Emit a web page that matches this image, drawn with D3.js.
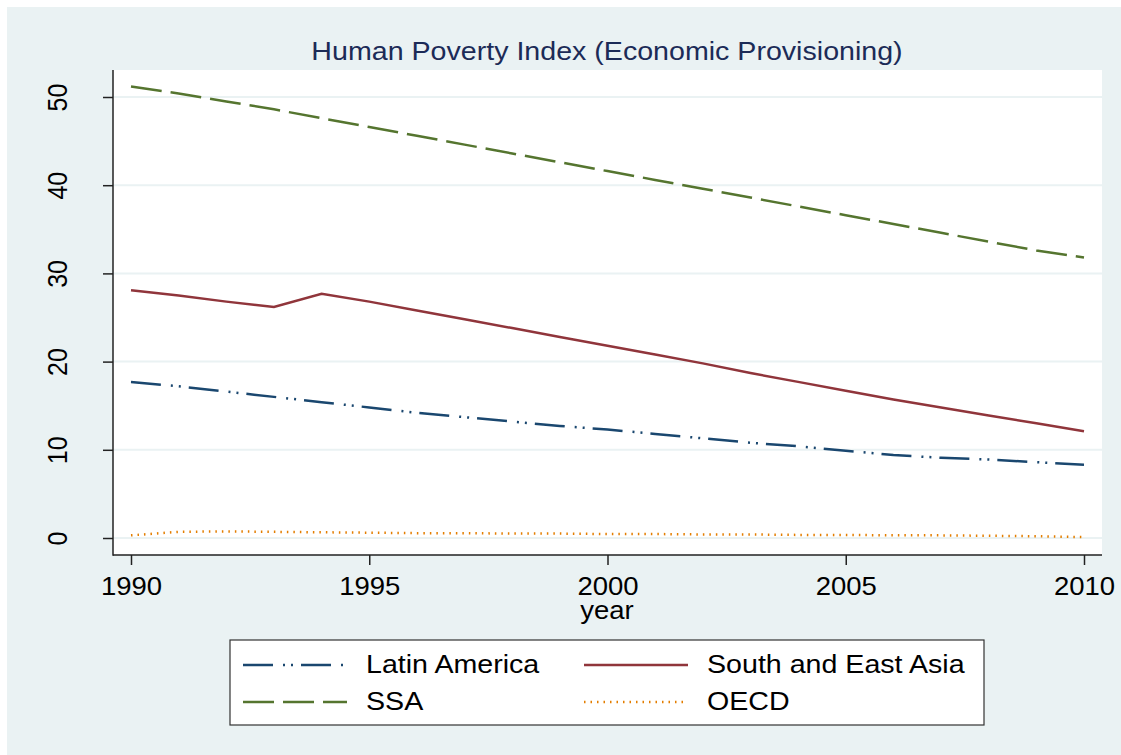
<!DOCTYPE html>
<html>
<head>
<meta charset="utf-8">
<script src="https://cdn.jsdelivr.net/npm/d3@7"></script>
<style>
  body { margin: 0; background: #fff; }
  text { font-family: 'Liberation Sans', Arial, sans-serif; }
</style>
</head>
<body>
<div id="chart"></div>
<script>
// data
const years = [1990, 1991, 1992, 1993, 1994, 1995, 1996, 1997, 1998, 1999, 2000,
  2001, 2002, 2003, 2004, 2005, 2006, 2007, 2008, 2009, 2010];
const latinAmerica = [17.7, 17.2, 16.6, 16.0, 15.4, 14.8, 14.2, 13.7, 13.2, 12.7, 12.3,
  11.8, 11.3, 10.8, 10.4, 9.9, 9.4, 9.1, 8.9, 8.6, 8.3];
const southEastAsia = [28.1, 27.5, 26.8, 26.2, 27.7, 26.8, 25.8, 24.8, 23.8, 22.8, 21.8,
  20.8, 19.8, 18.7, 17.7, 16.7, 15.7, 14.8, 13.9, 13.0, 12.1];
const ssa = [51.2, 50.4, 49.5, 48.6, 47.6, 46.6, 45.6, 44.6, 43.6, 42.6, 41.6,
  40.6, 39.6, 38.6, 37.6, 36.6, 35.6, 34.6, 33.6, 32.6, 31.8];
const oecd = [0.3, 0.7, 0.75, 0.7, 0.65, 0.6, 0.55, 0.55, 0.5, 0.5, 0.45,
  0.45, 0.4, 0.4, 0.35, 0.35, 0.3, 0.3, 0.25, 0.2, 0.1];
const xTicks = [1990, 1995, 2000, 2005, 2010];
const yTicks = [0, 10, 20, 30, 40, 50];
const seriesNames = ['Latin America', 'South and East Asia', 'SSA', 'OECD'];

const width = 1121, height = 755;
const plot = { left: 113, right: 1102, top: 70, bottom: 555 };
const bg = '#eaf2f3';
const stretch = 1.1;

const series = [
  { name: seriesNames[0], values: latinAmerica, color: '#1a476f', dash: '30,10,2,6,2,8' },
  { name: seriesNames[1], values: southEastAsia, color: '#90353b', dash: null },
  { name: seriesNames[2], values: ssa, color: '#55752f', dash: '31,9' },
  { name: seriesNames[3], values: oecd, color: '#e37e00', dash: '1.5,5' }
];

const svg = d3.select('#chart').append('svg')
  .attr('width', width)
  .attr('height', height);

svg.append('rect').attr('width', width).attr('height', height).attr('fill', '#fff');
svg.append('rect').attr('x', 7).attr('y', 7)
  .attr('width', width - 7).attr('height', height - 7).attr('fill', bg);
svg.append('rect')
  .attr('x', plot.left).attr('y', plot.top)
  .attr('width', plot.right - plot.left).attr('height', plot.bottom - plot.top)
  .attr('fill', '#fff');

let x = d3.scaleLinear().domain([1990, 2010]).range([131, 1084]);
let y = d3.scaleLinear().domain([0, 50]).range([538, 97]);

// gridlines
svg.append('g').selectAll('line').data(yTicks).enter()
  .append('line')
  .attr('x1', plot.left).attr('x2', plot.right)
  .attr('y1', (d) => y(d)).attr('y2', (d) => y(d))
  .attr('stroke', bg).attr('stroke-width', 2);

// title
svg.append('text')
  .attr('transform', `translate(607,60) scale(${stretch},1)`)
  .attr('text-anchor', 'middle')
  .attr('font-size', 26)
  .attr('fill', '#1c2b57')
  .text('Human Poverty Index (Economic Provisioning)');

// y axis
let yAxis = (g) =>
  g.attr('transform', `translate(${plot.left},0)`)
    .call(d3.axisLeft(y).tickValues(yTicks).tickSize(10))
    .call((g) => g.select('.domain').remove())
    .call((g) => g.selectAll('.tick line').attr('stroke', '#222').attr('stroke-width', 1.5))
    .call((g) =>
      g.selectAll('.tick text')
        .attr('x', null).attr('dy', null).attr('y', null)
        .attr('transform', `translate(-46,0) scale(${stretch},1) rotate(-90)`)
        .attr('text-anchor', 'middle')
        .attr('font-size', 25)
        .attr('fill', '#000')
    );

// x axis
let xAxis = (g) =>
  g.attr('transform', `translate(0,${plot.bottom})`)
    .call(d3.axisBottom(x).tickValues(xTicks).tickSize(10).tickFormat(d3.format('d')))
    .call((g) => g.select('.domain').remove())
    .call((g) => g.selectAll('.tick line').attr('stroke', '#222').attr('stroke-width', 1.5))
    .call((g) =>
      g.selectAll('.tick text')
        .attr('y', null).attr('dy', null)
        .attr('transform', `translate(0,40) scale(${stretch},1)`)
        .attr('font-size', 25)
        .attr('fill', '#000')
    );

svg.append('g').call(yAxis).attr('font-family', null);
svg.append('g').call(xAxis).attr('font-family', null);

// axis lines
svg.append('line')
  .attr('x1', plot.left).attr('x2', plot.left)
  .attr('y1', plot.top).attr('y2', plot.bottom + 0.75)
  .attr('stroke', '#222').attr('stroke-width', 1.5);
svg.append('line')
  .attr('x1', plot.left).attr('x2', plot.right)
  .attr('y1', plot.bottom).attr('y2', plot.bottom)
  .attr('stroke', '#222').attr('stroke-width', 1.5);

svg.append('text')
  .attr('transform', `translate(607,619) scale(${stretch},1)`)
  .attr('text-anchor', 'middle')
  .attr('font-size', 25)
  .text('year');

// lines
series.forEach((s) => {
  let line = d3.line()
    .x((d, i) => x(years[i]))
    .y((d) => y(d));
  svg.append('path')
    .datum(s.values)
    .attr('fill', 'none')
    .attr('stroke', s.color)
    .attr('stroke-width', 2.5)
    .attr('stroke-dasharray', s.dash)
    .attr('d', line);
});

// legend
const legend = svg.append('g');
legend.append('rect')
  .attr('x', 230).attr('y', 640).attr('width', 754).attr('height', 85)
  .attr('fill', '#fff').attr('stroke', '#333').attr('stroke-width', 1.2);

const legendPos = [
  { x: 243, y: 665 },
  { x: 584, y: 665 },
  { x: 243, y: 702 },
  { x: 584, y: 702 }
];
series.forEach((s, i) => {
  let p = legendPos[i];
  legend.append('line')
    .attr('x1', p.x).attr('x2', p.x + 104)
    .attr('y1', p.y).attr('y2', p.y)
    .attr('stroke', s.color).attr('stroke-width', 2.5)
    .attr('stroke-dasharray', s.dash);
  legend.append('text')
    .attr('transform', `translate(${p.x + 123},${p.y + 8}) scale(${stretch},1)`)
    .attr('font-size', 26)
    .text(s.name);
});
</script>
</body>
</html>
